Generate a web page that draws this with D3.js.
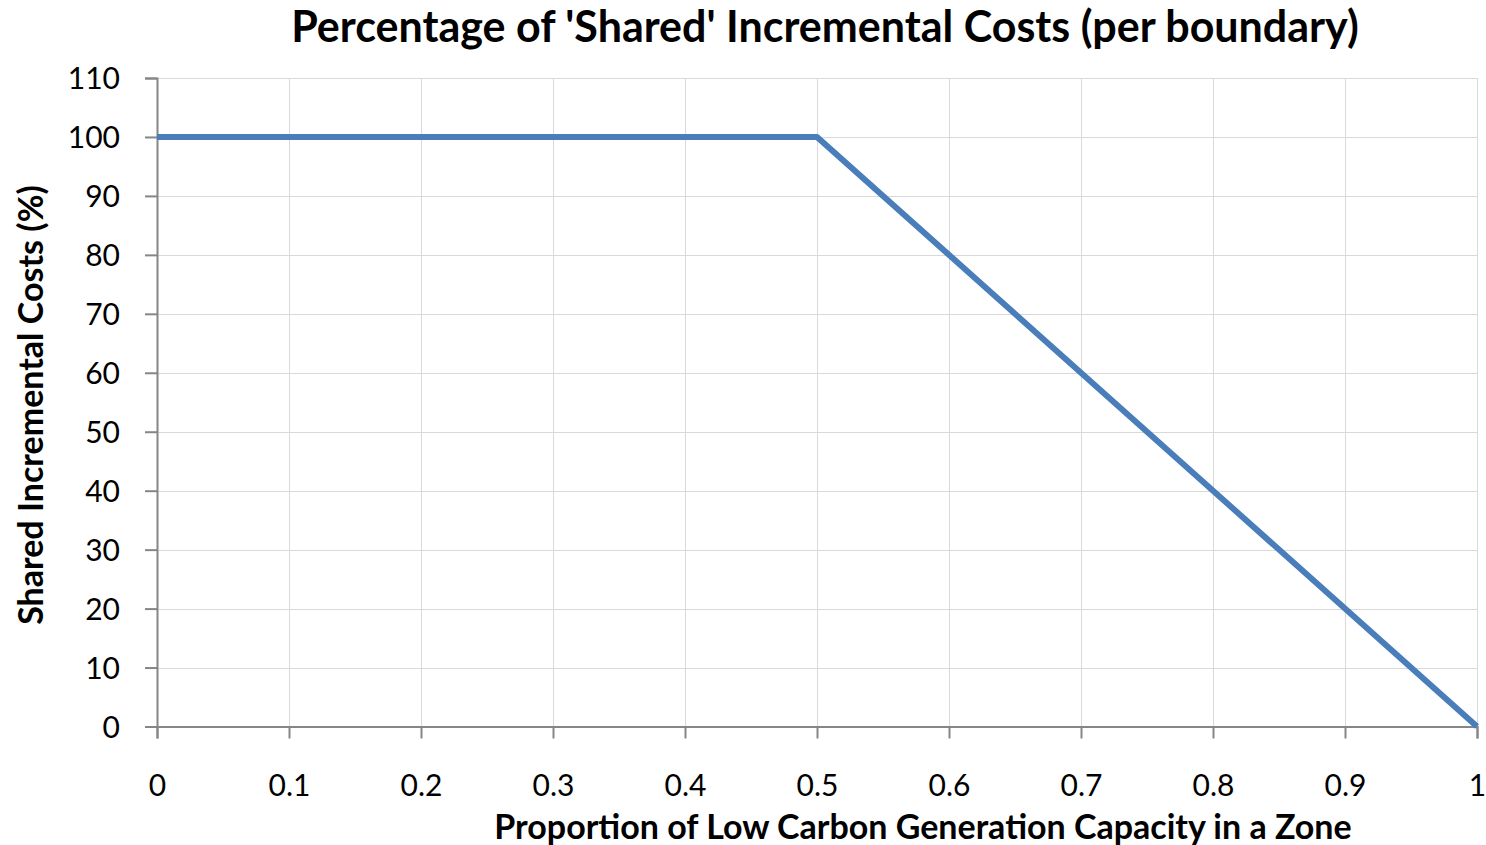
<!DOCTYPE html>
<html>
<head>
<meta charset="utf-8">
<script src="https://cdn.jsdelivr.net/npm/d3@7"></script>
<style>
  body { margin: 0; background: #fff; }
  text { font-family: Lato, "Open Sans", sans-serif; fill: #000; }
</style>
</head>
<body>
<div id="chart"></div>
<script>
// data
var proportion = [0, 0.5, 1];
var sharedPct = [100, 100, 0];
var xTicks = [0, 0.1, 0.2, 0.3, 0.4, 0.5, 0.6, 0.7, 0.8, 0.9, 1];
var yTicks = [0, 10, 20, 30, 40, 50, 60, 70, 80, 90, 100, 110];

var width = 1486, height = 845;
var margin = {top: 78, right: 9, bottom: 118, left: 157};

var svg = d3.select("#chart").append("svg")
    .attr("width", width)
    .attr("height", height);

var x = d3.scaleLinear().domain([0, 1]).range([margin.left, width - margin.right]);
var y = d3.scaleLinear().domain([0, 110]).range([height - margin.bottom - 0.5, margin.top]);

// gridlines
svg.append("g").selectAll("line.v")
    .data(xTicks.slice(1))
  .enter().append("line")
    .attr("x1", function(d) { return Math.round(x(d)) + 0.5; })
    .attr("x2", function(d) { return Math.round(x(d)) + 0.5; })
    .attr("y1", y(0))
    .attr("y2", y(110))
    .attr("stroke", "#d9d9d9")
    .attr("stroke-width", 1);

svg.append("g").selectAll("line.h")
    .data(yTicks.slice(1))
  .enter().append("line")
    .attr("x1", x(0))
    .attr("x2", x(1))
    .attr("y1", function(d) { return Math.round(y(d)) + 0.5; })
    .attr("y2", function(d) { return Math.round(y(d)) + 0.5; })
    .attr("stroke", "#d9d9d9")
    .attr("stroke-width", 1);

// y axis
var yAxis = d3.axisLeft(y).tickValues(yTicks).tickSize(12).tickPadding(25).tickFormat(d3.format("d"));
var gy = svg.append("g")
    .attr("transform", "translate(" + x(0) + ",0)")
    .call(yAxis);

// x axis
var xAxis = d3.axisBottom(x).tickValues(xTicks).tickSize(12).tickPadding(36)
    .tickFormat(function(d) { return d === 0 || d === 1 ? d3.format("d")(d) : d3.format(".1f")(d); });
var gx = svg.append("g")
    .attr("transform", "translate(0," + y(0) + ")")
    .call(xAxis);

[gx, gy].forEach(function(g) {
  g.select(".domain").attr("stroke", "#868686").attr("stroke-width", 2);
  g.selectAll(".tick line").attr("stroke", "#868686").attr("stroke-width", 2);
  g.selectAll(".tick text").style("font-size", "30px").attr("fill", "#000");
});
gy.selectAll(".tick text").attr("dy", "0.35em");

// line
var line = d3.line()
    .x(function(d, i) { return x(proportion[i]); })
    .y(function(d) { return y(d); });

svg.append("path")
    .datum(sharedPct)
    .attr("d", line)
    .attr("fill", "none")
    .attr("stroke", "#4a7ebb")
    .attr("stroke-width", 6)
    .attr("stroke-linejoin", "round");

// title
svg.append("text")
    .attr("x", 825)
    .attr("y", 42)
    .attr("text-anchor", "middle")
    .style("font-size", "43px")
    .style("font-weight", "bold")
    .text("Percentage of 'Shared' Incremental Costs (per boundary)");

// axis titles
svg.append("text")
    .attr("x", 923)
    .attr("y", 839)
    .attr("text-anchor", "middle")
    .style("font-size", "34px")
    .style("font-weight", "bold")
    .text("Proportion of Low Carbon Generation Capacity in a Zone");

svg.append("text")
    .attr("transform", "translate(43,405) rotate(-90)")
    .attr("text-anchor", "middle")
    .style("font-size", "34px")
    .style("font-weight", "bold")
    .text("Shared Incremental Costs (%)");
</script>
</body>
</html>
